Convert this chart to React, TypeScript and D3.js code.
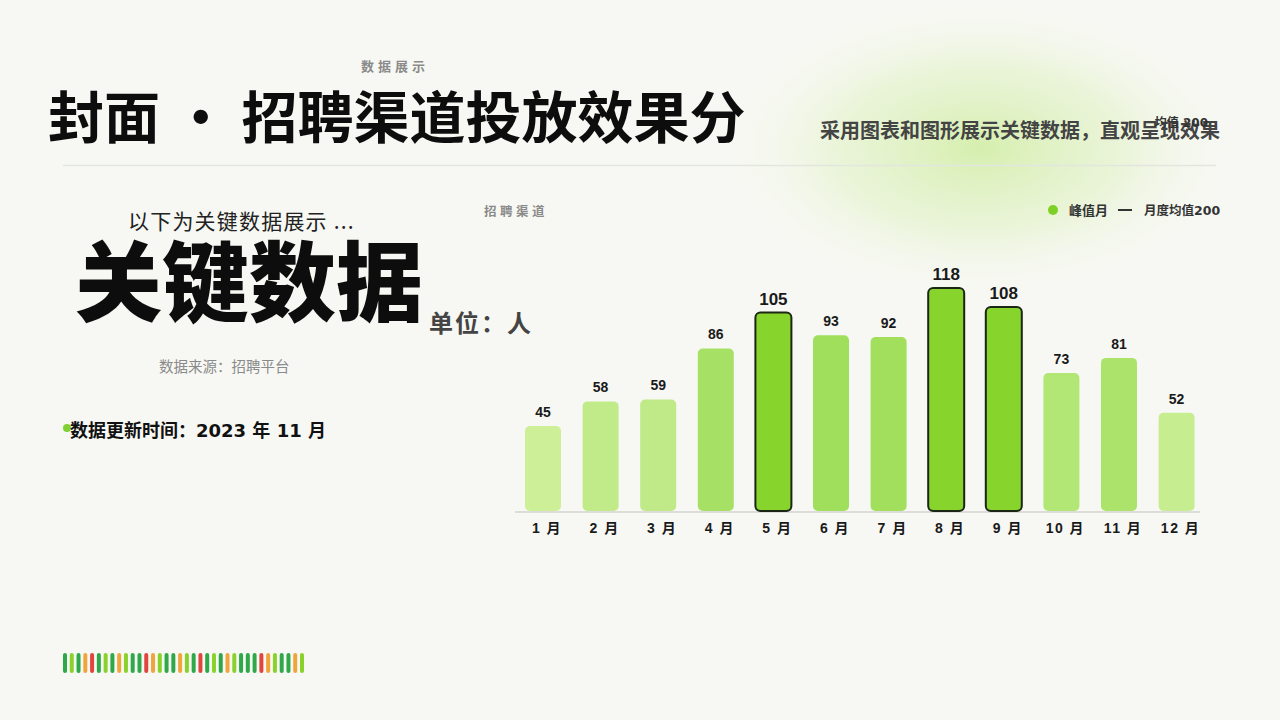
import { useEffect, useRef } from 'react';
import * as d3 from 'd3';

const months = ['1 月', '2 月', '3 月', '4 月', '5 月', '6 月', '7 月', '8 月', '9 月', '10 月', '11 月', '12 月'];
const hires = [45, 58, 59, 86, 105, 93, 92, 118, 108, 73, 81, 52];
const peakMonths = ['5 月', '8 月', '9 月'];
const monthlyAverage = 200;

// decorative stripe: g = dark green, l = light green, o = orange, r = red
const stripe = 'glgorglgolggrolggolgrglgolgggrolggol'.split('');

const W = 1280;
const H = 720;
const CJK = '"Noto Sans CJK SC", "Noto Sans", sans-serif';
const NUM = '"Liberation Sans", "Noto Sans CJK SC", sans-serif';
const DJV = '"DejaVu Sans", "Noto Sans CJK SC", sans-serif';

export default function App() {
  const svgRef = useRef<SVGSVGElement>(null);

  useEffect(() => {
    if (!svgRef.current) return;
    const svg = d3.select(svgRef.current);
    svg.selectAll('*').remove();

    const defs = svg.append('defs');
    const glow = defs
      .append('radialGradient')
      .attr('id', 'glow')
      .attr('cx', '50%')
      .attr('cy', '50%')
      .attr('r', '50%');
    glow.append('stop').attr('offset', '0%').attr('stop-color', '#d4eeaa').attr('stop-opacity', 0.95);
    glow.append('stop').attr('offset', '55%').attr('stop-color', '#e2f2c8').attr('stop-opacity', 0.6);
    glow.append('stop').attr('offset', '100%').attr('stop-color', '#f7f8f3').attr('stop-opacity', 0);

    svg.append('rect').attr('width', W).attr('height', H).attr('fill', '#f7f8f3');
    svg
      .append('ellipse')
      .attr('cx', 980)
      .attr('cy', 148)
      .attr('rx', 265)
      .attr('ry', 150)
      .attr('fill', 'url(#glow)');

    // header
    svg
      .append('text')
      .attr('x', 361)
      .attr('y', 71)
      .attr('font-family', CJK)
      .attr('font-size', 13)
      .attr('font-weight', 700)
      .attr('letter-spacing', 4)
      .attr('fill', '#8a8a8a')
      .text('数据展示');

    svg
      .append('text')
      .attr('x', 48)
      .attr('y', 138)
      .attr('font-family', CJK)
      .attr('font-size', 56)
      .attr('font-weight', 700)
      .attr('fill', '#0d0d0d')
      .attr('xml:space', 'preserve')
      .text('封面 · 招聘渠道投放效果分');

    svg
      .append('text')
      .attr('x', 1220)
      .attr('y', 138)
      .attr('text-anchor', 'end')
      .attr('font-family', CJK)
      .attr('font-size', 20)
      .attr('font-weight', 700)
      .attr('fill', '#444')
      .text('采用图表和图形展示关键数据，直观呈现效果');

    svg
      .append('line')
      .attr('x1', 63)
      .attr('x2', 1216)
      .attr('y1', 165.5)
      .attr('y2', 165.5)
      .attr('stroke', '#e3e5df')
      .attr('stroke-width', 1.5);

    // left panel
    svg
      .append('text')
      .attr('x', 128)
      .attr('y', 229)
      .attr('font-family', CJK)
      .attr('font-size', 21)
      .attr('letter-spacing', 1.2)
      .attr('fill', '#222')
      .text('以下为关键数据展示 ...');

    svg
      .append('text')
      .attr('x', 75)
      .attr('y', 315)
      .attr('font-family', CJK)
      .attr('font-size', 87)
      .attr('font-weight', 800)
      .attr('fill', '#0d0d0d')
      .text('关键数据');

    svg
      .append('text')
      .attr('x', 429)
      .attr('y', 332)
      .attr('font-family', CJK)
      .attr('font-size', 24)
      .attr('font-weight', 700)
      .attr('letter-spacing', 2)
      .attr('fill', '#444')
      .text('单位：人');

    svg
      .append('text')
      .attr('x', 159)
      .attr('y', 372)
      .attr('font-family', CJK)
      .attr('font-size', 14.5)
      .attr('fill', '#8a8a8a')
      .text('数据来源：招聘平台');

    svg.append('circle').attr('cx', 67).attr('cy', 428).attr('r', 4).attr('fill', '#7fd033');
    svg
      .append('text')
      .attr('x', 70)
      .attr('y', 437)
      .attr('font-family', DJV)
      .attr('font-size', 18)
      .attr('font-weight', 700)
      .attr('fill', '#111')
      .text('数据更新时间：2023 年 11 月');

    // chart
    const x = d3
      .scaleBand<string>()
      .domain(months)
      .range([514.2, 1205.4])
      .paddingInner(0.375)
      .paddingOuter(0.1875);

    const y = d3.scaleLinear().domain([0, monthlyAverage]).range([511, 133]);

    const shade = d3
      .scaleLinear<string>()
      .domain([45, 93])
      .range(['#ccef98', '#a0df5c'])
      .clamp(true);

    svg
      .append('text')
      .attr('x', 484)
      .attr('y', 216)
      .attr('font-family', CJK)
      .attr('font-size', 12.5)
      .attr('font-weight', 700)
      .attr('letter-spacing', 3.5)
      .attr('fill', '#8a8a8a')
      .text('招聘渠道');

    // legend
    svg.append('circle').attr('cx', 1053).attr('cy', 210).attr('r', 5).attr('fill', '#7fd026');
    svg
      .append('text')
      .attr('x', 1069)
      .attr('y', 215)
      .attr('font-family', CJK)
      .attr('font-size', 13)
      .attr('font-weight', 700)
      .attr('fill', '#333')
      .text('峰值月');
    svg
      .append('line')
      .attr('x1', 1118)
      .attr('x2', 1132)
      .attr('y1', 210)
      .attr('y2', 210)
      .attr('stroke', '#333')
      .attr('stroke-width', 2);
    svg
      .append('text')
      .attr('x', 1144)
      .attr('y', 215)
      .attr('font-family', DJV)
      .attr('font-size', 12.5)
      .attr('font-weight', 700)
      .attr('fill', '#333')
      .text('月度均值200');

    // average label (line itself sits above the plot)
    svg
      .append('text')
      .attr('x', 1208)
      .attr('y', y(monthlyAverage) - 6)
      .attr('text-anchor', 'end')
      .attr('font-family', DJV)
      .attr('font-size', 12)
      .attr('font-weight', 700)
      .attr('fill', '#333')
      .text(`均值 ${monthlyAverage}`);

    svg
      .append('line')
      .attr('x1', 515)
      .attr('x2', 1200)
      .attr('y1', 512)
      .attr('y2', 512)
      .attr('stroke', '#dcdcd8')
      .attr('stroke-width', 2);

    const data = months.map((m, i) => ({ m, v: hires[i], peak: peakMonths.includes(m) }));

    svg
      .selectAll('.bar')
      .data(data)
      .enter()
      .append('rect')
      .attr('class', 'bar')
      .attr('x', (d) => x(d.m)!)
      .attr('y', (d) => y(d.v))
      .attr('width', x.bandwidth())
      .attr('height', (d) => y(0) - y(d.v))
      .attr('rx', 5)
      .attr('fill', (d) => (d.peak ? '#86d42c' : shade(d.v)))
      .attr('stroke', (d) => (d.peak ? '#1c2614' : 'none'))
      .attr('stroke-width', 2);

    svg
      .selectAll('.value')
      .data(data)
      .enter()
      .append('text')
      .attr('x', (d) => x(d.m)! + x.bandwidth() / 2)
      .attr('y', (d) => y(d.v) - (d.peak ? 8 : 9))
      .attr('text-anchor', 'middle')
      .attr('font-family', NUM)
      .attr('font-size', (d) => (d.peak ? 17 : 14))
      .attr('font-weight', 700)
      .attr('fill', '#1a1a1a')
      .text((d) => d.v);

    svg
      .selectAll('.tick')
      .data(months)
      .enter()
      .append('text')
      .attr('x', (d) => x(d)! + x.bandwidth() / 2 + 4)
      .attr('y', 533)
      .attr('text-anchor', 'middle')
      .attr('font-family', NUM)
      .attr('font-size', 14)
      .attr('font-weight', 700)
      .attr('letter-spacing', 1.5)
      .attr('fill', '#1a1a1a')
      .text((d) => d);

    // stripe decoration
    const stripeColor: Record<string, string> = {
      g: '#2fa84a',
      l: '#8ad12c',
      o: '#f0a53c',
      r: '#e0463f',
    };
    const sx = d3
      .scalePoint<number>()
      .domain(stripe.map((_, i) => i))
      .range([65, 302]);
    svg
      .selectAll('.stripe')
      .data(stripe)
      .enter()
      .append('rect')
      .attr('x', (_, i) => sx(i)! - 2)
      .attr('y', 653)
      .attr('width', 4)
      .attr('height', 20)
      .attr('rx', 2)
      .attr('fill', (d) => stripeColor[d]);
  }, []);

  return (
    <div style={{ position: 'fixed', left: 0, top: 0, width: W, height: H, background: '#f7f8f3' }}>
      <svg ref={svgRef} width={W} height={H} style={{ display: 'block' }} role="img" aria-label="招聘渠道月度数据柱状图" />
    </div>
  );
}
